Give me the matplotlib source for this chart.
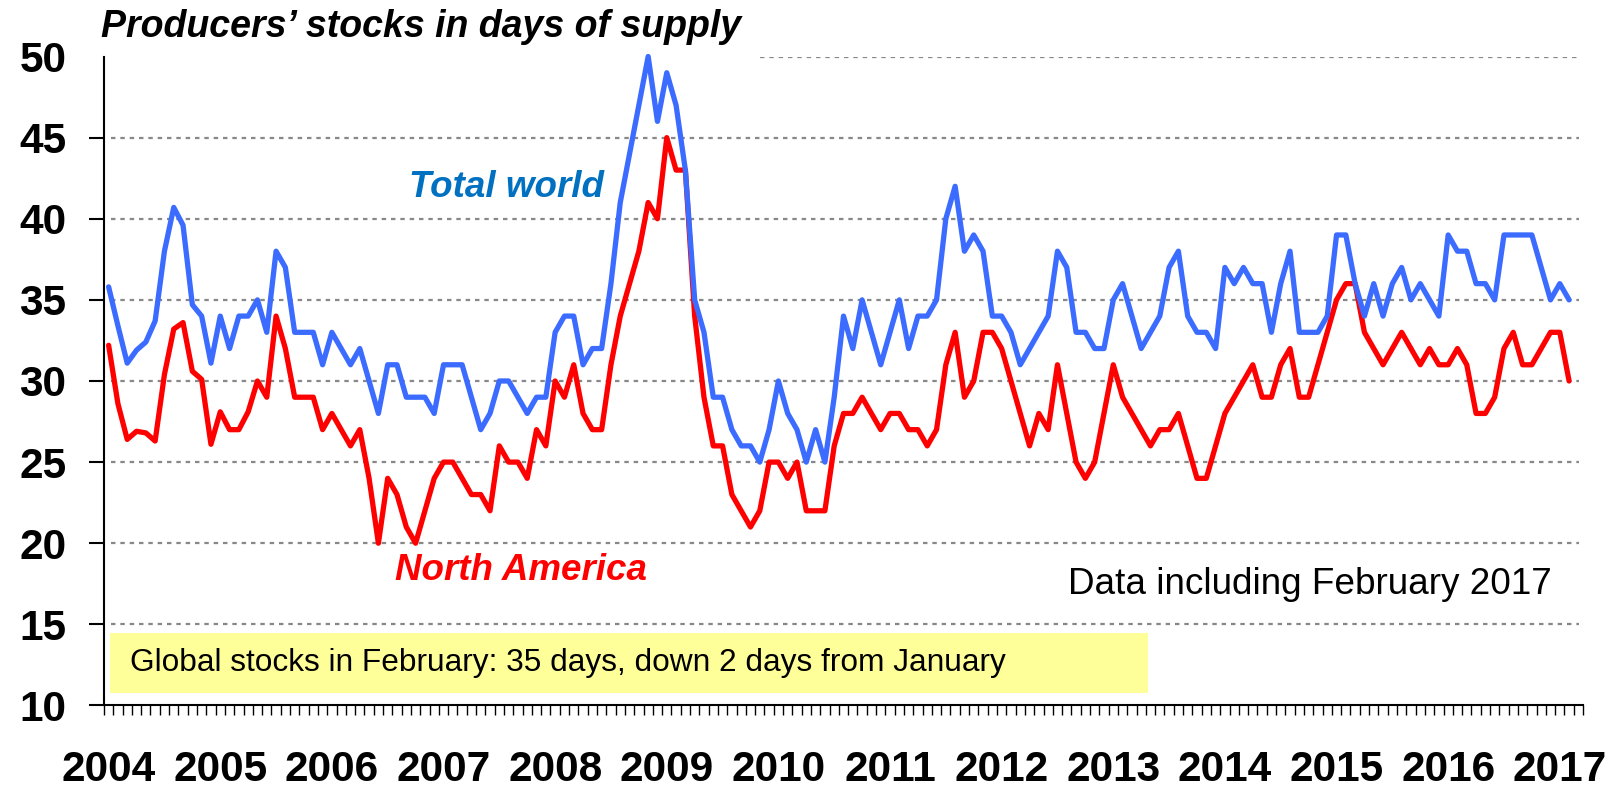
import matplotlib
matplotlib.use("Agg")
import matplotlib.pyplot as plt
from matplotlib.patches import Rectangle

plt.rcParams['font.family'] = ['Liberation Sans', 'DejaVu Sans']

years = list(range(2004, 2018))

total_world = [
    35.8, 33.4, 31.1, 31.9, 32.4, 33.7, 38.0, 40.7, 39.6, 34.7, 34.0, 31.1,
    34, 32, 34, 34, 35, 33, 38, 37, 33, 33, 33, 31,
    33, 32, 31, 32, 30, 28, 31, 31, 29, 29, 29, 28,
    31, 31, 31, 29, 27, 28, 30, 30, 29, 28, 29, 29,
    33, 34, 34, 31, 32, 32, 36, 41, 44, 47, 50, 46,
    49, 47, 43, 35, 33, 29, 29, 27, 26, 26, 25, 27,
    30, 28, 27, 25, 27, 25, 29, 34, 32, 35, 33, 31,
    33, 35, 32, 34, 34, 35, 40, 42, 38, 39, 38, 34,
    34, 33, 31, 32, 33, 34, 38, 37, 33, 33, 32, 32,
    35, 36, 34, 32, 33, 34, 37, 38, 34, 33, 33, 32,
    37, 36, 37, 36, 36, 33, 36, 38, 33, 33, 33, 34,
    39, 39, 36, 34, 36, 34, 36, 37, 35, 36, 35, 34,
    39, 38, 38, 36, 36, 35, 39, 39, 39, 39, 37, 35,
    36, 35,
]

north_america = [
    32.2, 28.6, 26.4, 26.9, 26.8, 26.3, 30.4, 33.2, 33.6, 30.6, 30.1, 26.1,
    28.1, 27, 27, 28.1, 30, 29, 34, 32, 29, 29, 29, 27,
    28, 27, 26, 27, 24, 20, 24, 23, 21, 20, 22, 24,
    25, 25, 24, 23, 23, 22, 26, 25, 25, 24, 27, 26,
    30, 29, 31, 28, 27, 27, 31, 34, 36, 38, 41, 40,
    45, 43, 43, 34, 29, 26, 26, 23, 22, 21, 22, 25,
    25, 24, 25, 22, 22, 22, 26, 28, 28, 29, 28, 27,
    28, 28, 27, 27, 26, 27, 31, 33, 29, 30, 33, 33,
    32, 30, 28, 26, 28, 27, 31, 28, 25, 24, 25, 28,
    31, 29, 28, 27, 26, 27, 27, 28, 26, 24, 24, 26,
    28, 29, 30, 31, 29, 29, 31, 32, 29, 29, 31, 33,
    35, 36, 36, 33, 32, 31, 32, 33, 32, 31, 32, 31,
    31, 32, 31, 28, 28, 29, 32, 33, 31, 31, 32, 33,
    33, 30,
]

y_ticks = [10, 15, 20, 25, 30, 35, 40, 45, 50]

fig = plt.figure(figsize=(16.17, 7.87), dpi=100)
ax = fig.add_axes([0.0643, 0.1036, 0.9147, 0.8246])

months = list(range(len(total_world)))

# gridlines
for v in y_ticks[1:]:
    xmin = 0.4435 if v == 50 else 0.005
    ax.axhline(v, xmin=xmin, xmax=0.9973, color='#888888', lw=1.6,
               linestyle=(0, (2.0, 2.2)), zorder=1)

ax.plot(months, north_america, color='#FF0000', lw=3.8, solid_joinstyle='round',
        solid_capstyle='round', zorder=3, clip_on=False)
ax.plot(months, total_world, color='#3B6CFF', lw=3.8, solid_joinstyle='round',
        solid_capstyle='round', zorder=4, clip_on=False)

ax.set_xlim(-0.5, 158.5)
ax.set_ylim(10, 50)

ax.set_yticks(y_ticks)
ax.set_yticklabels([str(v) for v in y_ticks], fontsize=30.5, fontweight='bold')
ax.tick_params(axis='y', direction='out', length=11, width=1.5, pad=16)
ax.yaxis.get_major_ticks()[-1].tick1line.set_visible(False)

ax.set_xticks([12 * k for k in range(len(years))])
ax.set_xticklabels([str(y) for y in years], fontsize=30.5, fontweight='bold')
ax.set_xticks([j - 0.5 for j in range(160)], minor=True)
ax.tick_params(axis='x', which='major', length=0, pad=32)
ax.tick_params(axis='x', which='minor', direction='out', length=7, width=1.0)

for s in ['top', 'right']:
    ax.spines[s].set_visible(False)
for s in ['left', 'bottom']:
    ax.spines[s].set_linewidth(1.5)

# yellow note box
ax.add_patch(Rectangle((0.0041, 0.0193), 0.7018, 0.0924, transform=ax.transAxes,
                       facecolor='#FFFF99', edgecolor='none', zorder=2))
ax.text(0.0176, 0.0655, 'Global stocks in February: 35 days, down 2 days from January',
        transform=ax.transAxes, fontsize=22.8, va='center', ha='left', zorder=5)

ax.text(0.2062, 0.7835, 'Total world', transform=ax.transAxes, fontsize=26.5,
        fontweight='bold', fontstyle='italic', color='#0070C0', va='baseline', zorder=5)
ax.text(0.1968, 0.1934, 'North America', transform=ax.transAxes, fontsize=26.5,
        fontweight='bold', fontstyle='italic', color='#FF0000', va='baseline', zorder=5)
ax.text(0.979, 0.1718, 'Data including February 2017', transform=ax.transAxes,
        fontsize=26.6, ha='right', va='baseline', zorder=5)

fig.text(0.0625, 0.953, 'Producers\u2019 stocks in days of supply', fontsize=27,
         fontweight='bold', fontstyle='italic', va='baseline', ha='left')

fig.savefig('out.png', dpi=100)
